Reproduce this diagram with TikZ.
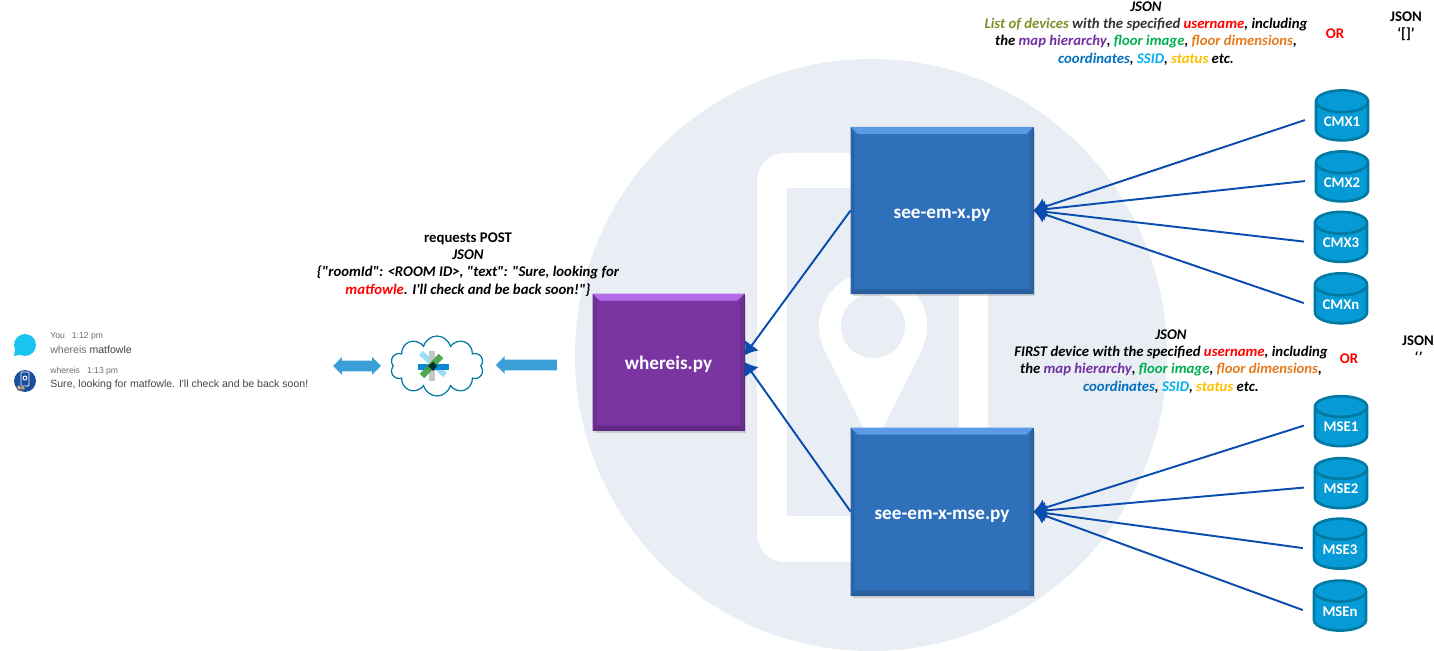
\documentclass[tikz,border=0pt]{standalone}
\usepackage{fontspec}
\setmainfont{Carlito}[Ligatures=TeXOff]
\newfontfamily\chatfont{Liberation Sans}
\usepackage{tikz}
\usetikzlibrary{arrows.meta}
\usetikzlibrary{calc}
\usetikzlibrary{shadows}
\usetikzlibrary{shapes.geometric, shapes.symbols, shapes.arrows}

\definecolor{bgblue}{HTML}{E9EEF5}
\definecolor{linkblue}{HTML}{0A4DAE}
\definecolor{boxblue}{HTML}{2E70BA}
\definecolor{boxbluetop}{HTML}{5B9BE6}
\definecolor{boxblueside}{HTML}{2A65AA}
\definecolor{boxbluelow}{HTML}{2A5F9F}
\definecolor{boxpurple}{HTML}{7A35A3}
\definecolor{boxpurpletop}{HTML}{B56CE8}
\definecolor{boxpurpleside}{HTML}{6C2F92}
\definecolor{boxpurplelow}{HTML}{632A86}
\definecolor{dbfill}{HTML}{069BD6}
\definecolor{dbline}{HTML}{0079A3}
\definecolor{flatblue}{HTML}{3A9FD6}
\definecolor{olivetxt}{HTML}{7F8F2A}
\definecolor{redtxt}{HTML}{FF0000}
\definecolor{purpletxt}{HTML}{7030A0}
\definecolor{greentxt}{HTML}{00B050}
\definecolor{orangetxt}{HTML}{E67A1E}
\definecolor{bluetxt}{HTML}{0070C0}
\definecolor{skytxt}{HTML}{00B0F0}
\definecolor{goldtxt}{HTML}{FFC000}
\definecolor{chatgray}{HTML}{6C6C74}
\definecolor{chatdark}{HTML}{44444C}
\definecolor{chatcyan}{HTML}{18C5F0}
\definecolor{botblue}{HTML}{1A4F9C}

\newcommand{\usertxt}{\textcolor{redtxt}{username}}
\newcommand{\detailA}{the \textcolor{purpletxt}{map hierarchy}, \textcolor{greentxt}{floor image}, \textcolor{orangetxt}{floor dimensions},}
\newcommand{\detailB}{\textcolor{bluetxt}{coordinates}, \textcolor{skytxt}{SSID}, \textcolor{goldtxt}{status} etc.}
% edges of a raised box
\newcommand{\bevelbox}[5]{
  \fill[#2] (#1.north west) -- (#1.north east) -- ($(#1.north east)+(-7,7)$) -- ($(#1.north west)+(7,7)$) -- cycle;
  \fill[#3] (#1.north west) -- (#1.south west) -- ($(#1.south west)+(4,-5)$) -- ($(#1.north west)+(4,7)$) -- cycle;
  \fill[#4] (#1.north east) -- (#1.south east) -- ($(#1.south east)+(-4,-5)$) -- ($(#1.north east)+(-4,7)$) -- cycle;
  \fill[#5] (#1.south west) -- (#1.south east) -- ($(#1.south east)+(-4,-5)$) -- ($(#1.south west)+(4,-5)$) -- cycle;
}

\tikzset{
  pybox/.style={draw=#1!75!black, fill=#1, line width=0.5pt, inner sep=0pt, text=white,
    font=\fontsize{10.9}{13}\selectfont\bfseries, text height=9pt, text depth=0pt,
    drop shadow={shadow xshift=1pt, shadow yshift=-1.5pt, opacity=0.3}},
  dbnode/.style={cylinder, shape border rotate=90, shape aspect=0.6, draw=dbline, fill=dbfill,
    line width=1.5pt, minimum width=1.04cm, minimum height=1cm, inner sep=0pt, text=white,
    font=\fontsize{8.4}{10}\selectfont\bfseries},
  link/.style={linkblue, line width=1.1pt, >={Latex[length=7pt,width=10pt]}},
  note/.style={align=center, inner sep=0pt, font=\fontsize{8.4}{9.8}\selectfont\bfseries},
  chatline/.style={anchor=west, inner sep=0pt, font=\chatfont\fontsize{6}{7}\selectfont},
  chathead/.style={anchor=west, inner sep=0pt, text=chatgray, font=\chatfont\fontsize{4.9}{6}\selectfont},
  flatarrow/.style={fill=flatblue, inner sep=0.1cm, minimum width=0.34cm},
}

\begin{document}
\begin{tikzpicture}[x=0.02cm, y=-0.02cm]
        \useasboundingbox (0,0) rectangle (1434,651);

        %% background
        \fill[bgblue] (871,355) circle (296);
        \fill[white, rounded corners=0.56cm] (757,153) rectangle (988,562);
        \fill[bgblue] (787,188) rectangle (959,516);
        \fill[white] (873,326) circle (54);
        \fill[white] (823,347) -- (873,447) -- (923,347) -- cycle;
        \fill[bgblue] (873,326) circle (32);

        %% chat
        \fill[chatcyan] (25,345) circle (11);
        \fill[chatcyan] (15,350) -- (14,356) -- (24,354) -- cycle;
        \node[chathead] (you) at (50,336) {You\hspace{4pt}1:12 pm};
        \node[chatline, text=chatgray] (ask) at (50,350) {whereis \textcolor{chatdark}{matfowle}};
        \node[circle, fill=botblue, minimum size=0.44cm, inner sep=0pt] (boticon) at (25,381) {};
        \draw[white, line width=0.5pt, rounded corners=0.5pt] (21,372) rectangle (29,386);
        \draw[white, line width=0.5pt] (25,378) circle (2);
        \node[fill=gray!80!black, rounded corners=1.5pt, text=white, inner sep=0.6pt, font=\chatfont\fontsize{2.6}{3}\selectfont] (botpill) at (21,388) {Bot};
        \node[chathead] (botname) at (50,371) {whereis\hspace{4pt}1:13 pm};
        \node[chatline, text=chatdark] (reply) at (50,385) {Sure, looking for matfowle. I'll check and be back soon!};

        %% webex cloud
        \node[double arrow, flatarrow, minimum height=0.96cm, double arrow head extend=0.07cm] (chatarrow) at (357,366) {};
        \node[cloud, cloud puffs=10, aspect=1.5, draw=dbline, fill=white, line width=0.7pt, minimum width=1.86cm, minimum height=1.2cm, inner sep=0pt] (cloud) at (437,366) {};
        \draw[line width=3.2pt, cyan!40!white] (421,353) -- (445,375);
        \draw[line width=3.4pt, gray!45!white] (432,351) -- (432,381);
        \draw[line width=3pt, cyan!70!blue] (418,367) -- (449,367);
        \draw[line width=3.6pt, green!50!black!75!white, opacity=0.9] (422,376) -- (441,356);
        \fill[black!65!teal] (433,362) -- (437,366) -- (433,371) -- (428,366) -- cycle;
        \node[single arrow, flatarrow, shape border rotate=180, minimum height=1.22cm, single arrow head extend=0.07cm] (postarrow) at (529,365) {};

        %% python scripts
        \node[pybox=boxpurple, minimum width=3.02cm, minimum height=2.72cm] (whereis) at (668.5,362) {whereis.py};
        \bevelbox{whereis}{boxpurpletop}{boxpurpleside}{boxpurpleside}{boxpurplelow}
        \node[pybox=boxblue, minimum width=3.64cm, minimum height=3.33cm] (seemx) at (942,210.5) {see-em-x.py};
        \bevelbox{seemx}{boxbluetop}{boxblueside}{boxblueside}{boxbluelow}
        \node[pybox=boxblue, minimum width=3.64cm, minimum height=3.34cm] (seemxmse) at (942,511.5) {see-em-x-mse.py};
        \bevelbox{seemxmse}{boxbluetop}{boxblueside}{boxblueside}{boxbluelow}

        %% CMX servers
        \node[dbnode] (cmx1) at (1342,121.5) {CMX1};
        \node[dbnode] (cmx2) at (1342,182.5) {CMX2};
        \node[dbnode] (cmx3) at (1341,243) {CMX3};
        \node[dbnode] (cmxn) at (1341,304.5) {CMXn};

        %% MSE servers
        \node[dbnode] (mse1) at (1341,427) {MSE1};
        \node[dbnode] (mse2) at (1341,489) {MSE2};
        \node[dbnode] (mse3) at (1340,549.5) {MSE3};
        \node[dbnode] (msen) at (1340,611.5) {MSEn};

        %% connectors
        \draw[link, ->] (seemx.west) -- (whereis.5);
        \draw[link, ->] (seemxmse.west) -- (whereis.east);
        \draw[link, ->] ([xshift=-5.6pt, yshift=0.8pt]cmx1.west) -- (seemx.east);
        \draw[link, ->] ([xshift=-5.6pt, yshift=0.8pt]cmx2.west) -- (seemx.east);
        \draw[link, ->] ([xshift=-5.6pt, yshift=0.8pt]cmx3.west) -- (seemx.east);
        \draw[link, ->] ([xshift=-5.6pt, yshift=0.8pt]cmxn.west) -- (seemx.east);
        \draw[link, ->] ([xshift=-5.6pt, yshift=0.8pt]mse1.west) -- (seemxmse.east);
        \draw[link, ->] ([xshift=-5.6pt, yshift=0.8pt]mse2.west) -- (seemxmse.east);
        \draw[link, ->] ([xshift=-5.6pt, yshift=0.8pt]mse3.west) -- (seemxmse.east);
        \draw[link, ->] ([xshift=-5.6pt, yshift=0.8pt]msen.west) -- (seemxmse.east);

        %% notes
        \node[note] (postnote) at (468,264.5) {requests POST\\ \itshape JSON\\ \itshape \{"roomId": <ROOM ID>, "text": "Sure, looking for\\ \itshape \textcolor{redtxt}{matfowle}. I'll check and be back soon!"\}};
        \node[note, font=\fontsize{8.4}{9.8}\selectfont\bfseries\itshape] (cmxnote) at (1146,33.5) {JSON\\ \textcolor{olivetxt}{List of devices} \textcolor{black!80}{with the specified} \usertxt, including\\ \detailA\\ \detailB};
        \node[note, text=redtxt] (cmxor) at (1335,34) {OR};
        \node[note] (cmxempty) at (1406,26.5) {JSON\\ ‘[]’};
        \node[note, font=\fontsize{8.4}{9.8}\selectfont\bfseries\itshape] (msenote) at (1171,361.5) {JSON\\ FIRST device with the specified \usertxt, including\\ \detailA\\ \detailB};
        \node[note, text=redtxt] (mseor) at (1349,359) {OR};
        \node[note] (mseempty) at (1418,349) {JSON\\ \itshape ‘’};
\end{tikzpicture}
\end{document}
